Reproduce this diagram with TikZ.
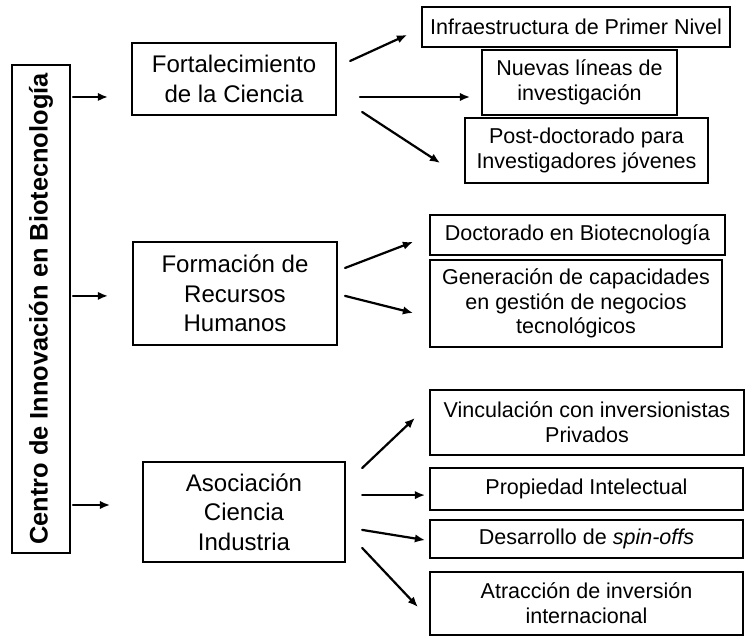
\documentclass[tikz,border=0pt]{standalone}
\usepackage{fontspec}
\setmainfont{Liberation Sans}
\usetikzlibrary{arrows.meta,calc}
\usepackage{tkz-euclide}
\definecolor{LineClr}{rgb}{0,0,0}

\begin{document}
\begin{tikzpicture}[box/.style={draw=LineClr,line width=2.3pt,rectangle,align=center,inner sep=0pt},
  mid/.style={box,font=\fontsize{22.8}{28}\selectfont},
  leaf/.style={box,font=\fontsize{20.4}{23.5}\selectfont},
  arr/.style={line width=2.1pt,color=LineClr,-{Latex[length=3.4mm,width=2.8mm]}}]
\tkzSetUpLine[line width=2.1pt,color=LineClr]
\useasboundingbox (0,0) rectangle (24.833,21.233);

\node[box,rotate=90,minimum width=16.27cm,minimum height=1.93cm,font=\bfseries\fontsize{24.1}{28}\selectfont] (cib) at (1.367,10.933) {Centro de Innovación en Biotecnología};

\node[mid,minimum width=6.8cm,minimum height=2.4cm] (fort) at (7.8,18.6) {Fortalecimiento\\de la Ciencia};
\node[mid,minimum width=6.8cm,minimum height=3.43cm] (form) at (7.833,11.45) {Formación de\\Recursos\\Humanos};
\node[mid,minimum width=6.73cm,minimum height=3.33cm] (asoc) at (8.133,4.167) {Asociación\\Ciencia\\Industria};

\node[leaf,minimum width=10.27cm,minimum height=1.33cm] (infra) at (19.2,20.333) {Infraestructura de Primer Nivel};
\node[leaf,minimum width=6.5cm,minimum height=2.17cm] (lineas) at (19.317,18.483) {Nuevas líneas de\\investigación};
\node[leaf,minimum width=8.1cm,minimum height=2.17cm] (postdoc) at (19.55,16.217) {Post-doctorado para\\Investigadores jóvenes};
\node[leaf,minimum width=9.83cm,minimum height=1.33cm] (doct) at (19.25,13.4) {Doctorado en Biotecnología};
\node[leaf,minimum width=9.73cm,minimum height=2.9cm] (gest) at (19.2,11.117) {Generación de capacidades\\en gestión de negocios\\tecnológicos};
\node[leaf,minimum width=10.47cm,minimum height=2.17cm] (vinc) at (19.567,7.15) {Vinculación con inversionistas\\Privados};
\node[leaf,minimum width=10.43cm,minimum height=1.4cm] (prop) at (19.55,4.933) {Propiedad Intelectual};
\node[leaf,minimum width=10.43cm,minimum height=1.27cm] (spin) at (19.55,3.267) {Desarrollo de \textit{spin-offs}};
\node[leaf,minimum width=10.43cm,minimum height=2.1cm] (atrac) at (19.55,1.117) {Atracción de inversión\\internacional};

\tkzDefPoints{2.43/18/L1a,3.6/18/L1b,2.43/11.37/L2a,3.6/11.37/L2b,2.43/4.4/L3a,3.67/4.4/L3b}
\tkzDefPoints{11.67/19.2/F1a,13.57/20.07/F1b,12/18/F2a,15.67/18/F2b,12.07/17.5/F3a,14.67/15.8/F3b}
\tkzDefPoints{11.5/12.3/R1a,13.77/13.17/R1b,11.5/11.37/R2a,13.77/10.8/R2b}
\tkzDefPoints{12.07/5.63/A1a,13.83/7.3/A1b,12.07/4.73/A2a,14.17/4.73/A2b,12.07/3.57/A3a,14.17/3.23/A3b,12.07/2.97/A4a,13.93/1/A4b}

\tkzDrawSegments[arr](L1a,L1b L2a,L2b L3a,L3b)
\tkzDrawSegments[arr](F1a,F1b F2a,F2b F3a,F3b)
\tkzDrawSegments[arr](R1a,R1b R2a,R2b)
\tkzDrawSegments[arr](A1a,A1b A2a,A2b A3a,A3b A4a,A4b)

\end{tikzpicture}
\end{document}
